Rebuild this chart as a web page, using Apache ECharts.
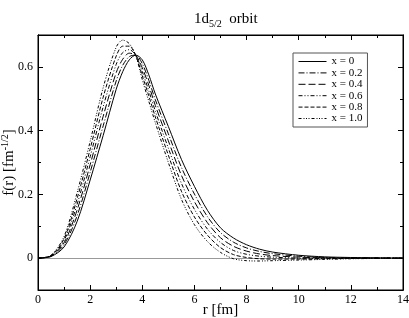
<!DOCTYPE html>
<html>
<head>
<meta charset="utf-8">
<script src="https://cdn.jsdelivr.net/npm/echarts@6/dist/echarts.min.js"></script>
<style>html,body{margin:0;padding:0;background:#fff;}#c{width:409px;height:318px;}</style>
</head>
<body>
<div id="c"></div>
<script>
const r = [0, 0.5, 1, 1.5, 2, 2.5, 3, 3.25, 3.5, 3.75, 4, 4.25, 4.5, 5, 5.5, 6, 6.5, 7, 7.5, 8, 8.5, 9, 10, 11, 12, 13, 14];
const seriesNames = ['x = 0', 'x = 0.2', 'x = 0.4', 'x = 0.6', 'x = 0.8', 'x = 1.0'];
const f_x00 = [0, 0.005, 0.035, 0.115, 0.245, 0.385, 0.530, 0.585, 0.622, 0.637, 0.622, 0.575, 0.515, 0.413, 0.310, 0.225, 0.150, 0.095, 0.063, 0.042, 0.028, 0.019, 0.009, 0.004, 0.002, 0.001, 0];
const f_x02 = [0, 0.006, 0.042, 0.133, 0.269, 0.415, 0.556, 0.605, 0.632, 0.637, 0.610, 0.558, 0.497, 0.390, 0.285, 0.201, 0.130, 0.080, 0.050, 0.032, 0.021, 0.014, 0.006, 0.002, 0.001, 0, 0];
const f_x04 = [0, 0.007, 0.048, 0.151, 0.293, 0.445, 0.582, 0.624, 0.643, 0.636, 0.597, 0.542, 0.479, 0.368, 0.260, 0.177, 0.111, 0.064, 0.037, 0.022, 0.013, 0.008, 0.003, 0.001, 0, 0, 0];
const f_x06 = [0, 0.007, 0.055, 0.169, 0.318, 0.475, 0.608, 0.645, 0.654, 0.636, 0.585, 0.525, 0.461, 0.345, 0.235, 0.153, 0.091, 0.049, 0.024, 0.012, 0.006, 0.003, 0, -0.001, -0.001, 0, 0];
const f_x08 = [0, 0.008, 0.061, 0.187, 0.342, 0.505, 0.634, 0.665, 0.665, 0.635, 0.572, 0.509, 0.443, 0.323, 0.210, 0.129, 0.072, 0.033, 0.011, 0.002, -0.002, -0.003, -0.003, -0.002, -0.001, 0, 0];
const f_x10 = [0, 0.009, 0.068, 0.205, 0.366, 0.535, 0.662, 0.684, 0.673, 0.635, 0.560, 0.492, 0.425, 0.300, 0.185, 0.105, 0.052, 0.018, -0.002, -0.008, -0.009, -0.008, -0.006, -0.004, -0.002, -0.001, 0];
const xTicks = [0, 2, 4, 6, 8, 10, 12, 14];
const yLabelTicks = [0, 0.2, 0.4, 0.6];
const yMinorTicks = [0.1, 0.3, 0.5];

const allValues = [f_x00, f_x02, f_x04, f_x06, f_x08, f_x10];
const dashes = ['solid', [6, 2, 1, 2], [7, 3], [4, 2, 1, 2, 1, 2], [4, 2], [3, 2, 1, 1.5, 1, 1.5, 1, 2]];
const serif = 'Liberation Serif';

const chart = echarts.init(document.getElementById('c'), null, {renderer: 'canvas'});
const grid = {left: 38, right: 6, top: 35, bottom: 28, show: true, borderColor: '#000', borderWidth: 1,
  backgroundColor: 'transparent', containLabel: false, outerBoundsMode: 'none'};

function xAx(pos, labels) {
  return {
    type: 'value', position: pos, min: 0, max: 14, interval: 2,
    axisLine: {show: true, onZero: false, lineStyle: {color: '#000', width: 1}},
    axisTick: {show: true, inside: true, length: 5, lineStyle: {color: '#000'}},
    minorTick: {show: true, splitNumber: 2, length: 3, lineStyle: {color: '#000'}},
    splitLine: {show: false}, minorSplitLine: {show: false},
    axisLabel: {show: labels, color: '#000', fontFamily: serif, fontSize: 12, margin: 4, customValues: xTicks},
    name: labels ? 'r [fm]' : '', nameLocation: 'middle', nameGap: 20, nameMoveOverlap: false,
    nameTextStyle: {color: '#000', fontFamily: serif, fontSize: 15, verticalAlign: 'middle'}
  };
}
function yAx(pos, labels, ticks, len) {
  const a = {
    type: 'value', position: pos, min: -0.1, max: 0.7,
    axisLine: {show: true, onZero: false, lineStyle: {color: '#000', width: 1}},
    axisTick: {show: true, inside: true, length: len, customValues: ticks, lineStyle: {color: '#000'}},
    splitLine: {show: false},
    axisLabel: {show: labels, color: '#000', fontFamily: serif, fontSize: 12, margin: 5, customValues: yLabelTicks,
      formatter: v => String(Math.round(v * 10) / 10)}
  };
  if (labels) {
    a.name = '{a|f(r) [fm}{s|-1/2}{a|]}';
    a.nameLocation = 'middle';
    a.nameGap = 20;
    a.nameMoveOverlap = false;
    a.nameRotate = 90;
    a.nameTextStyle = {color: '#000', fontFamily: serif, fontSize: 15,
      rich: {a: {fontFamily: serif, fontSize: 15, color: '#000'}, s: {fontFamily: serif, fontSize: 10, color: '#000', padding: [0, 0, 8, 0]}}};
  }
  return a;
}

const series = allValues.map((vals, i) => {
  const s = {
    name: seriesNames[i], type: 'line', xAxisIndex: 0, yAxisIndex: 0,
    data: r.map((x, j) => [x, vals[j]]),
    smooth: 0.3, symbol: 'none', showSymbol: false,
    lineStyle: {color: '#000', width: 1, type: dashes[i]},
    itemStyle: {color: '#000'},
    z: 3, silent: true
  };
  if (i === 0) {
    s.markLine = {silent: true, symbol: 'none', label: {show: false},
      lineStyle: {color: '#999', width: 1, type: 'solid'}, data: [{yAxis: 0}], z: 1};
  }
  return s;
});

chart.setOption({
  backgroundColor: '#fff',
  animation: false,
  title: {
    text: '{a|1d}{b|5/2}{a|  orbit}', left: 189, top: 5,
    textStyle: {fontWeight: 'normal', rich: {
      a: {fontFamily: serif, fontSize: 15, fontWeight: 'normal', color: '#000'},
      b: {fontFamily: serif, fontSize: 10, fontWeight: 'normal', color: '#000', padding: [9, 0, 0, 0]}}}
  },
  grid: grid,
  legend: {
    orient: 'vertical', left: 293, top: 53, data: seriesNames,
    backgroundColor: '#fff', borderColor: '#555', borderWidth: 1, borderRadius: 0,
    padding: [3, 5, 3, 5], itemGap: 0.4, itemWidth: 28, itemHeight: 8,
    itemStyle: {opacity: 0, borderWidth: 0},
    lineStyle: {width: 1},
    textStyle: {fontFamily: serif, fontSize: 11, color: '#000', lineHeight: 10}
  },
  xAxis: [xAx('bottom', true), xAx('top', false)],
  yAxis: [yAx('left', true, yLabelTicks, 5), yAx('left', false, yMinorTicks, 3), yAx('right', false, yLabelTicks, 5), yAx('right', false, yMinorTicks, 3)],
  series: series
});
</script>
</body>
</html>
